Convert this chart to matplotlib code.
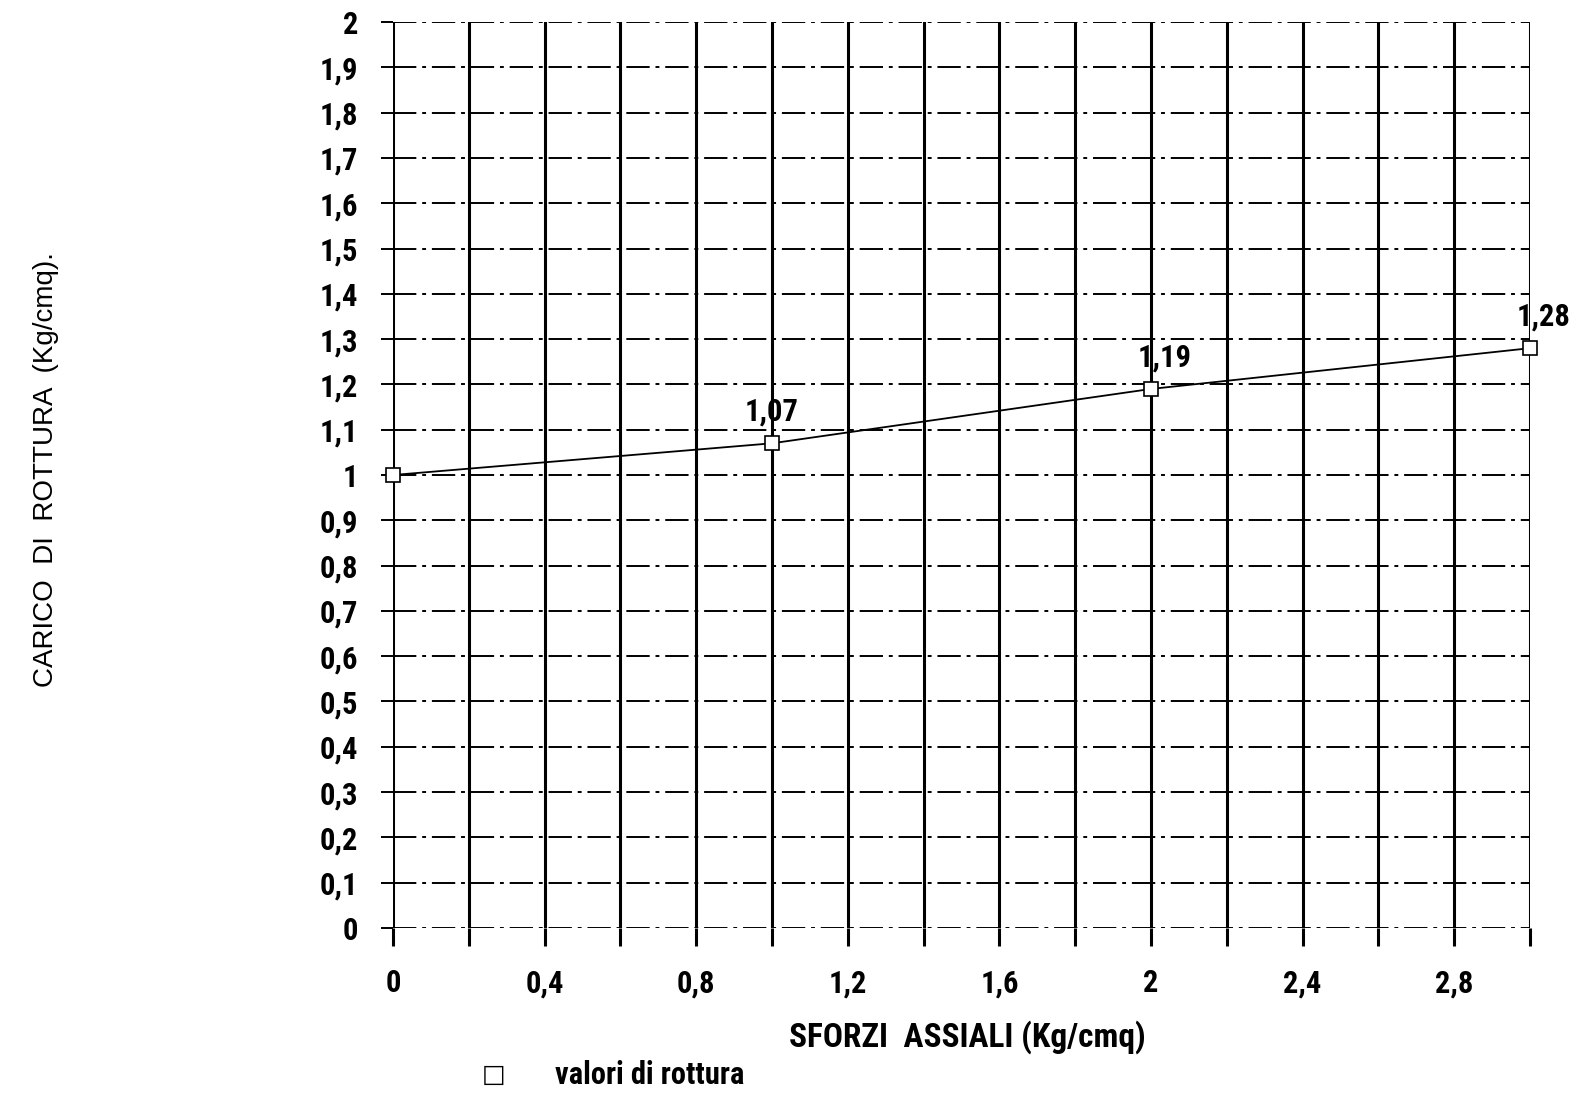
import numpy as np
import matplotlib
matplotlib.use("Agg")
import matplotlib.pyplot as plt

sforzi = [0, 1, 2, 3]
carico = [1.00, 1.07, 1.19, 1.28]
etichette = ["1", "1,07", "1,19", "1,28"]

x_grid = np.round(np.arange(0, 3.01, 0.2), 1)
x_labels = ["0", "0,4", "0,8", "1,2", "1,6", "2", "2,4", "2,8"]
y_grid = np.round(np.arange(0, 2.01, 0.1), 1)
y_labels = ["0", "0,1", "0,2", "0,3", "0,4", "0,5", "0,6", "0,7", "0,8", "0,9",
            "1", "1,1", "1,2", "1,3", "1,4", "1,5", "1,6", "1,7", "1,8", "1,9", "2"]

narrow = ["Roboto Condensed", "Liberation Sans Narrow", "Roboto", "DejaVu Sans"]

fig = plt.figure(figsize=(15.86, 11.03), dpi=100)
ax = fig.add_axes([0.2478, 0.1587, 0.9647 - 0.2478, 0.980 - 0.1587])
ax.set_xlim(0, 3.0)
ax.set_ylim(0, 2.0)

for xv in x_grid:
    ax.axvline(xv, color="black", lw=2.2, zorder=1)
for yv in y_grid:
    ax.axhline(yv, color="black", lw=1.4, ls=(0, (12, 3, 2, 3)), zorder=1)

for s in ax.spines.values():
    s.set_visible(False)

ax.set_xticks(x_grid)
ax.set_xticklabels([x_labels[i // 2] if i % 2 == 0 else "" for i in range(len(x_grid))])
ax.set_yticks(y_grid)
ax.set_yticklabels(y_labels)
ax.tick_params(axis="x", length=13, width=2.2, direction="out", pad=16)
ax.tick_params(axis="y", length=9, width=1.4, direction="out", pad=16)
for lab in ax.get_xticklabels() + ax.get_yticklabels():
    lab.set_family(narrow)
    lab.set_fontweight("bold")
    lab.set_fontsize(22)

ax.plot(sforzi, carico, color="black", lw=1.3, marker="s", ms=10,
        mfc="white", mec="black", mew=1.2, zorder=3, clip_on=False)

for xv, yv, t in zip(sforzi[1:], carico[1:], etichette[1:]):
    dx = 0 if xv < 2 else 10
    ax.annotate(t, (xv, yv), xytext=(dx, 12), textcoords="offset points",
                ha="center", va="bottom", fontsize=22, fontweight="bold",
                family=narrow)

fig.text(0.029, 0.574, "CARICO  DI  ROTTURA  (Kg/cmq).", rotation=90,
         ha="center", va="center", fontsize=20, family="Liberation Sans")
fig.text(0.61, 0.06, "SFORZI  ASSIALI (Kg/cmq)", ha="center", va="center",
         fontsize=24, fontweight="bold", family=narrow)

fig.text(0.311, 0.025, "\u25a1", ha="center", va="center", fontsize=18,
         family="DejaVu Sans")
fig.text(0.35, 0.025, "valori di rottura", ha="left", va="center",
         fontsize=22, fontweight="bold", family=narrow)

fig.savefig("out.png", dpi=100, facecolor="white")
